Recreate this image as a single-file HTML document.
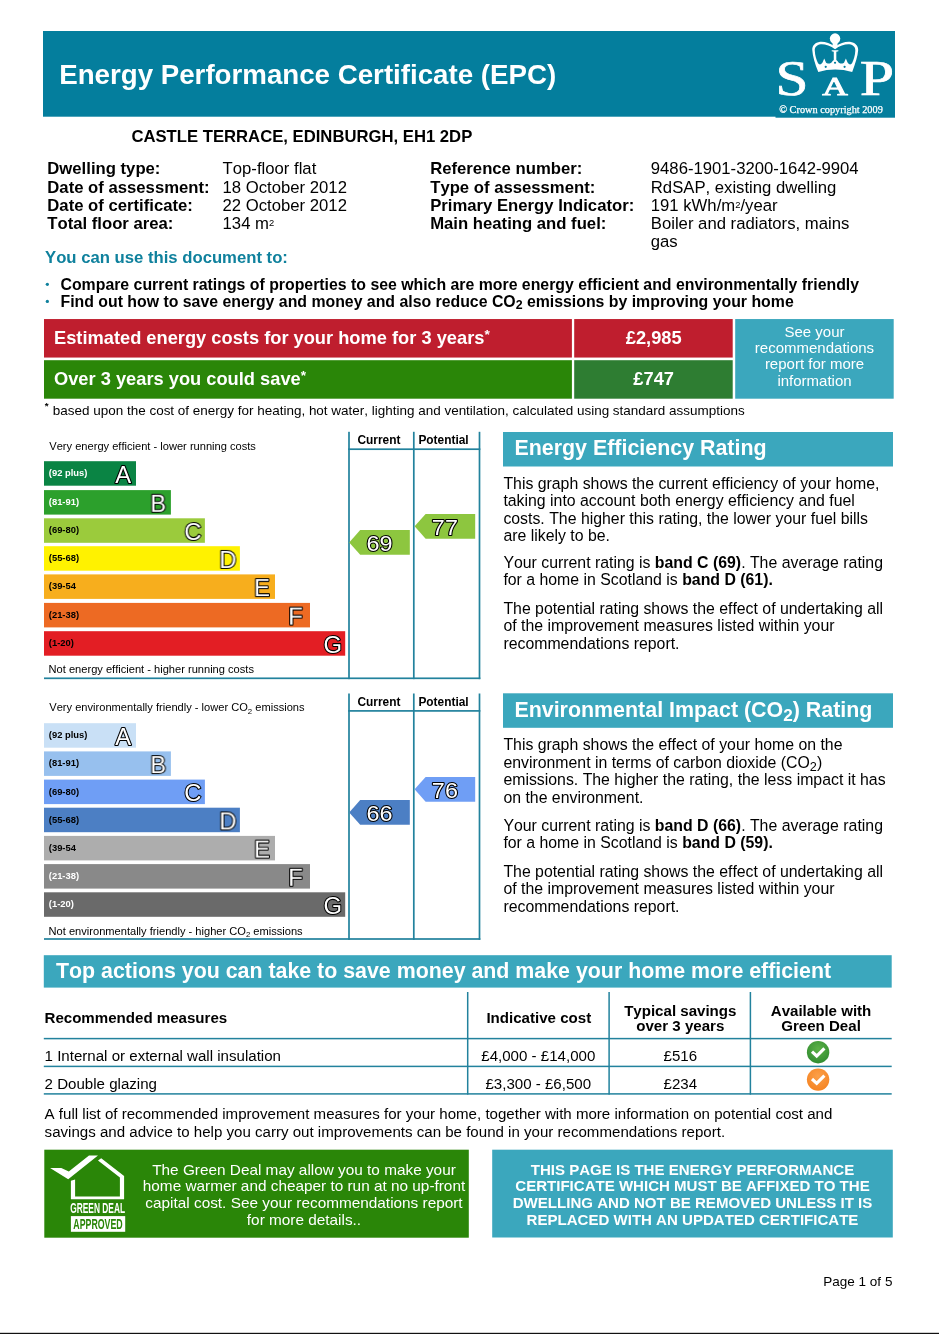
<!DOCTYPE html>
<html lang="en">
<head>
<meta charset="utf-8">
<title>Energy Performance Certificate (EPC)</title>
<style>
html,body{margin:0;padding:0;background:#fff;}
body{width:939px;height:1334px;position:relative;overflow:hidden;font-family:"Liberation Sans",sans-serif;color:#000;font-kerning:none;}
#page{position:absolute;left:0;top:0;width:939px;height:1334px;will-change:transform;}
.t{position:absolute;white-space:nowrap;margin:0;padding:0;}
.r{position:absolute;}
svg{position:absolute;left:0;top:0;overflow:visible;}
svg text{font-family:"Liberation Sans",sans-serif;font-kerning:none;}
.sup{font-size:0.56em;position:relative;top:-0.31em;}
.sub{font-size:0.78em;position:relative;top:0.2em;}
.sub2{font-size:0.8em;position:relative;top:0.21em;}
.sub3{font-size:0.8em;position:relative;top:0.24em;}
.ast{font-size:0.75em;position:relative;top:-0.35em;}
</style>
</head>
<body>
<div id="page">
<svg width="939" height="1334" viewBox="0 0 939 1334">
<rect x="43.00" y="31.00" width="852.00" height="85.70" fill="#047e9d"/>
<rect x="775.50" y="116.00" width="119.50" height="1.70" fill="#047e9d"/>
<circle cx="47.35" cy="284.35" r="1.65" fill="#0f819d"/>
<circle cx="47.35" cy="301.45" r="1.65" fill="#0f819d"/>
<rect x="44.00" y="319.05" width="527.90" height="38.50" fill="#bf1e2e"/>
<rect x="574.20" y="319.05" width="158.50" height="38.50" fill="#bf1e2e"/>
<rect x="44.00" y="360.20" width="527.90" height="38.50" fill="#2a8608"/>
<rect x="574.20" y="360.20" width="158.50" height="38.50" fill="#2e7d32"/>
<rect x="735.20" y="319.05" width="158.50" height="79.65" fill="#3ba7bd"/>
<rect x="503.00" y="432.00" width="390.00" height="34.50" fill="#3ba7bd"/>
<rect x="503.00" y="693.30" width="390.00" height="34.50" fill="#3ba7bd"/>
<rect x="43.80" y="955.20" width="847.90" height="32.40" fill="#3ba7bd"/>
<rect x="43.80" y="1037.85" width="847.90" height="1.50" fill="#22829d"/>
<rect x="43.80" y="1065.65" width="847.90" height="1.50" fill="#22829d"/>
<rect x="43.80" y="1093.15" width="847.90" height="1.50" fill="#22829d"/>
<rect x="466.95" y="992.00" width="1.50" height="102.60" fill="#22829d"/>
<rect x="608.35" y="992.00" width="1.50" height="102.60" fill="#22829d"/>
<rect x="749.65" y="992.00" width="1.50" height="102.60" fill="#22829d"/>
<rect x="44.30" y="1149.70" width="424.50" height="88.00" fill="#2a8608"/>
<rect x="492.20" y="1149.70" width="400.60" height="87.80" fill="#3ba7bd"/>
<rect x="0.00" y="1332.80" width="939.00" height="1.20" fill="#111"/>
</svg>
<div class="t" style="left:59.20px;top:61px;font-size:27.7px;line-height:27.7px;font-weight:bold;color:#fff;">Energy Performance Certificate (EPC)</div>
<svg width="939" height="130" viewBox="0 0 939 130">
<g fill="#fff" stroke="#fff" stroke-width="0.7" font-family="Liberation Serif, serif">
<text transform="translate(775.5,95.1) scale(1.185,1)" font-size="50" style="font-family:'Liberation Serif',serif">S</text>
<text transform="translate(859.7,95.1) scale(1.236,1)" font-size="50" style="font-family:'Liberation Serif',serif">P</text>
<text transform="translate(822.3,95.1) scale(1.36,1)" font-size="26" stroke-width="0.9" style="font-family:'Liberation Serif',serif">A</text>
<text x="779.2" y="113.0" font-size="10.3" stroke-width="0.25" style="font-family:'Liberation Serif',serif">© Crown copyright 2009</text>
</g>
<g transform="translate(800,28) scale(0.07457)">
<circle cx="470" cy="142" r="70" fill="#fff"/>
<path fill="#fff" d="M435 195 H505 L500 262 H440Z"/>
<path fill="#fff" d="M470 250 C400 200 330 180 270 185 C200 195 160 240 165 300 C170 380 200 480 245 590 Q470 525 700 590 C740 480 775 380 780 300 C785 240 740 195 670 185 C610 180 540 200 470 250Z"/>
<path fill="#047e9d" d="M470 284 C410 236 330 213 279 217 C222 225 196 258 198 302 C201 370 220 428 242 474 C257 496 288 491 302 464 L325 410 L348 461 C367 486 418 481 437 441 L470 420 L503 441 C522 481 573 486 592 461 L615 410 L638 464 C652 491 683 496 698 474 C720 428 739 370 742 302 C744 258 718 225 661 217 C610 213 530 236 470 284Z"/>
<path fill="#fff" d="M425 298 H515 V312 L487 320 V450 H453 V320 L425 312Z"/>
<circle cx="345" cy="520" r="15" fill="#047e9d"/>
<circle cx="470" cy="466" r="15" fill="#047e9d"/>
<circle cx="598" cy="520" r="15" fill="#047e9d"/>
</g>
</svg>

<div class="t" style="left:131.40px;top:129px;font-size:16.68px;line-height:16.68px;font-weight:bold;">CASTLE TERRACE, EDINBURGH, EH1 2DP</div>
<div class="t" style="left:47.30px;top:161px;font-size:16.7px;line-height:16.7px;font-weight:bold;">Dwelling type:</div>
<div class="t" style="left:222.60px;top:161px;font-size:16.7px;line-height:16.7px;">Top-floor flat</div>
<div class="t" style="left:430.20px;top:161px;font-size:16.7px;line-height:16.7px;font-weight:bold;">Reference number:</div>
<div class="t" style="left:650.80px;top:161px;font-size:16.7px;line-height:16.7px;">9486-1901-3200-1642-9904</div>
<div class="t" style="left:47.30px;top:180px;font-size:16.7px;line-height:16.7px;font-weight:bold;">Date of assessment:</div>
<div class="t" style="left:222.60px;top:180px;font-size:16.7px;line-height:16.7px;">18 October 2012</div>
<div class="t" style="left:430.20px;top:180px;font-size:16.7px;line-height:16.7px;font-weight:bold;">Type of assessment:</div>
<div class="t" style="left:650.80px;top:180px;font-size:16.7px;line-height:16.7px;">RdSAP, existing dwelling</div>
<div class="t" style="left:47.30px;top:198px;font-size:16.7px;line-height:16.7px;font-weight:bold;">Date of certificate:</div>
<div class="t" style="left:222.60px;top:198px;font-size:16.7px;line-height:16.7px;">22 October 2012</div>
<div class="t" style="left:430.20px;top:198px;font-size:16.7px;line-height:16.7px;font-weight:bold;">Primary Energy Indicator:</div>
<div class="t" style="left:650.80px;top:198px;font-size:16.7px;line-height:16.7px;">191 kWh/m<span class="sup">2</span>/year</div>
<div class="t" style="left:47.30px;top:216px;font-size:16.7px;line-height:16.7px;font-weight:bold;">Total floor area:</div>
<div class="t" style="left:222.60px;top:216px;font-size:16.7px;line-height:16.7px;">134 m<span class="sup">2</span></div>
<div class="t" style="left:430.20px;top:216px;font-size:16.7px;line-height:16.7px;font-weight:bold;">Main heating and fuel:</div>
<div class="t" style="left:650.80px;top:216px;font-size:16.7px;line-height:16.7px;">Boiler and radiators, mains</div>
<div class="t" style="left:650.80px;top:234px;font-size:16.7px;line-height:16.7px;">gas</div>
<div class="t" style="left:45.00px;top:250px;font-size:16.7px;line-height:16.7px;font-weight:bold;color:#0f819d;">You can use this document to:</div>
<div class="t" style="left:60.50px;top:277px;font-size:15.85px;line-height:15.85px;font-weight:bold;">Compare current ratings of properties to see which are more energy efficient and environmentally friendly</div>
<div class="t" style="left:60.50px;top:294px;font-size:15.85px;line-height:15.85px;font-weight:bold;">Find out how to save energy and money and also reduce CO<span class="sub">2</span> emissions by improving your home</div>
<div class="t" style="left:54.00px;top:329px;font-size:18.27px;line-height:18.27px;font-weight:bold;color:#fff;">Estimated energy costs for your home for 3 years<span class="ast">*</span></div>
<div class="t" style="left:54.00px;top:370px;font-size:18.27px;line-height:18.27px;font-weight:bold;color:#fff;">Over 3 years you could save<span class="ast">*</span></div>
<div class="t" style="left:574.60px;top:329px;font-size:18.27px;line-height:18.27px;font-weight:bold;color:#fff;width:158.20px;text-align:center;">£2,985</div>
<div class="t" style="left:574.60px;top:370px;font-size:18.27px;line-height:18.27px;font-weight:bold;color:#fff;width:158.20px;text-align:center;">£747</div>
<div class="t" style="left:735.20px;top:324px;font-size:15.0px;line-height:15.0px;color:#fff;width:158.60px;text-align:center;">See your</div>
<div class="t" style="left:735.20px;top:340px;font-size:15.0px;line-height:15.0px;color:#fff;width:158.60px;text-align:center;">recommendations</div>
<div class="t" style="left:735.20px;top:356px;font-size:15.0px;line-height:15.0px;color:#fff;width:158.60px;text-align:center;">report for more</div>
<div class="t" style="left:735.20px;top:373px;font-size:15.0px;line-height:15.0px;color:#fff;width:158.60px;text-align:center;">information</div>
<div class="t" style="left:44.80px;top:401px;font-size:9.8px;line-height:9.8px;font-weight:bold;">*</div>
<div class="t" style="left:52.80px;top:404px;font-size:13.48px;line-height:13.48px;">based upon the cost of energy for heating, hot water, lighting and ventilation, calculated using standard assumptions</div>
<svg width="939" height="960" viewBox="0 0 939 960" style="font-family:'Liberation Sans',sans-serif">
<g fill="#22829d">
<rect x="348.15" y="431.80" width="1.7" height="247.35"/>
<rect x="412.95" y="431.80" width="1.7" height="247.35"/>
<rect x="478.65" y="431.80" width="1.7" height="247.35"/>
<rect x="348.15" y="448.35" width="132.2" height="1.7"/>
<rect x="44" y="677.45" width="436.35" height="1.7"/>
</g>
<text x="378.9" y="444.10" font-size="11.9" font-weight="bold" text-anchor="middle">Current</text>
<text x="443.5" y="444.10" font-size="11.9" font-weight="bold" text-anchor="middle">Potential</text>
<text x="49.3" y="449.60" font-size="11.1">Very energy efficient - lower running costs</text>
<text x="48.6" y="672.50" font-size="11.1">Not energy efficient - higher running costs</text>
<rect x="44" y="461.20" width="92.00" height="24.5" fill="#0a8444"/>
<text x="48.8" y="476.10" font-size="9.4" font-weight="bold" fill="#fff">(92 plus)</text>
<text transform="translate(131.25,482.90) scale(0.98,1)" font-size="24.3" text-anchor="end" fill="#fff" stroke="#000" stroke-width="2.1" stroke-linejoin="round" paint-order="stroke">A</text>
<rect x="44" y="490.10" width="126.90" height="24.5" fill="#2ca02c"/>
<text x="48.8" y="505.00" font-size="9.4" font-weight="bold" fill="#fff">(81-91)</text>
<text transform="translate(166.20,511.80) scale(0.98,1)" font-size="24.3" text-anchor="end" fill="#fff" stroke="#000" stroke-width="2.1" stroke-linejoin="round" paint-order="stroke">B</text>
<rect x="44" y="518.30" width="160.90" height="24.5" fill="#9bcb3c"/>
<text x="48.8" y="533.20" font-size="9.4" font-weight="bold" fill="#000">(69-80)</text>
<text transform="translate(201.42,540.00) scale(0.98,1)" font-size="24.3" text-anchor="end" fill="#fff" stroke="#000" stroke-width="2.1" stroke-linejoin="round" paint-order="stroke">C</text>
<rect x="44" y="546.20" width="195.90" height="24.5" fill="#fff200"/>
<text x="48.8" y="561.10" font-size="9.4" font-weight="bold" fill="#000">(55-68)</text>
<text transform="translate(236.42,567.90) scale(0.98,1)" font-size="24.3" text-anchor="end" fill="#fff" stroke="#000" stroke-width="2.1" stroke-linejoin="round" paint-order="stroke">D</text>
<rect x="44" y="574.40" width="231.00" height="24.5" fill="#f7ae1d"/>
<text x="48.8" y="589.30" font-size="9.4" font-weight="bold" fill="#000">(39-54</text>
<text transform="translate(269.97,596.10) scale(0.98,1)" font-size="24.3" text-anchor="end" fill="#fff" stroke="#000" stroke-width="2.1" stroke-linejoin="round" paint-order="stroke">E</text>
<rect x="44" y="602.90" width="266.00" height="24.5" fill="#ed6a23"/>
<text x="48.8" y="617.80" font-size="9.4" font-weight="bold" fill="#000">(21-38)</text>
<text transform="translate(302.70,624.60) scale(0.98,1)" font-size="24.3" text-anchor="end" fill="#fff" stroke="#000" stroke-width="2.1" stroke-linejoin="round" paint-order="stroke">F</text>
<rect x="44" y="631.20" width="301.20" height="24.5" fill="#e31e24"/>
<text x="48.8" y="646.10" font-size="9.4" font-weight="bold" fill="#000">(1-20)</text>
<text transform="translate(342.08,652.90) scale(0.98,1)" font-size="24.3" text-anchor="end" fill="#fff" stroke="#000" stroke-width="2.1" stroke-linejoin="round" paint-order="stroke">G</text>
<path d="M349.20 542.40 L360.20 530.00 H409.80 V554.80 H360.20Z" fill="#8dc63f"/>
<text transform="translate(379.50,551.40) scale(1.05,1)" font-size="22.3" text-anchor="middle" fill="#fff" stroke="#000" stroke-width="2.1" stroke-linejoin="round" paint-order="stroke">69</text>
<path d="M414.60 526.30 L425.60 513.90 H475.20 V538.70 H425.60Z" fill="#8dc63f"/>
<text transform="translate(444.90,535.30) scale(1.05,1)" font-size="22.3" text-anchor="middle" fill="#fff" stroke="#000" stroke-width="2.1" stroke-linejoin="round" paint-order="stroke">77</text>
<g fill="#22829d">
<rect x="348.15" y="693.50" width="1.7" height="246.35"/>
<rect x="412.95" y="693.50" width="1.7" height="246.35"/>
<rect x="478.65" y="693.50" width="1.7" height="246.35"/>
<rect x="348.15" y="710.05" width="132.2" height="1.7"/>
<rect x="44" y="938.15" width="436.35" height="1.7"/>
</g>
<text x="378.9" y="705.80" font-size="11.9" font-weight="bold" text-anchor="middle">Current</text>
<text x="443.5" y="705.80" font-size="11.9" font-weight="bold" text-anchor="middle">Potential</text>
<text x="49.3" y="711.30" font-size="11.1">Very environmentally friendly - lower CO<tspan font-size="7.8" dy="2.4">2</tspan><tspan dy="-2.4"> </tspan>emissions</text>
<text x="48.6" y="934.80" font-size="11.1">Not environmentally friendly - higher CO<tspan font-size="7.8" dy="2.4">2</tspan><tspan dy="-2.4"> </tspan>emissions</text>
<rect x="44" y="723.20" width="92.00" height="24.5" fill="#c9e0f6"/>
<text x="48.8" y="738.10" font-size="9.4" font-weight="bold" fill="#000">(92 plus)</text>
<text transform="translate(131.25,744.90) scale(0.98,1)" font-size="24.3" text-anchor="end" fill="#fff" stroke="#000" stroke-width="2.1" stroke-linejoin="round" paint-order="stroke">A</text>
<rect x="44" y="751.40" width="126.90" height="24.5" fill="#97c0ee"/>
<text x="48.8" y="766.30" font-size="9.4" font-weight="bold" fill="#000">(81-91)</text>
<text transform="translate(166.20,773.10) scale(0.98,1)" font-size="24.3" text-anchor="end" fill="#fff" stroke="#000" stroke-width="2.1" stroke-linejoin="round" paint-order="stroke">B</text>
<rect x="44" y="779.60" width="160.90" height="24.5" fill="#6f9ef5"/>
<text x="48.8" y="794.50" font-size="9.4" font-weight="bold" fill="#000">(69-80)</text>
<text transform="translate(201.42,801.30) scale(0.98,1)" font-size="24.3" text-anchor="end" fill="#fff" stroke="#000" stroke-width="2.1" stroke-linejoin="round" paint-order="stroke">C</text>
<rect x="44" y="807.70" width="195.90" height="24.5" fill="#4c7fc4"/>
<text x="48.8" y="822.60" font-size="9.4" font-weight="bold" fill="#000">(55-68)</text>
<text transform="translate(236.42,829.40) scale(0.98,1)" font-size="24.3" text-anchor="end" fill="#fff" stroke="#000" stroke-width="2.1" stroke-linejoin="round" paint-order="stroke">D</text>
<rect x="44" y="835.90" width="231.00" height="24.5" fill="#adadad"/>
<text x="48.8" y="850.80" font-size="9.4" font-weight="bold" fill="#000">(39-54</text>
<text transform="translate(269.97,857.60) scale(0.98,1)" font-size="24.3" text-anchor="end" fill="#fff" stroke="#000" stroke-width="2.1" stroke-linejoin="round" paint-order="stroke">E</text>
<rect x="44" y="864.10" width="266.00" height="24.5" fill="#898989"/>
<text x="48.8" y="879.00" font-size="9.4" font-weight="bold" fill="#fff">(21-38)</text>
<text transform="translate(302.70,885.80) scale(0.98,1)" font-size="24.3" text-anchor="end" fill="#fff" stroke="#000" stroke-width="2.1" stroke-linejoin="round" paint-order="stroke">F</text>
<rect x="44" y="892.30" width="301.20" height="24.5" fill="#6a6a6a"/>
<text x="48.8" y="907.20" font-size="9.4" font-weight="bold" fill="#fff">(1-20)</text>
<text transform="translate(342.08,914.00) scale(0.98,1)" font-size="24.3" text-anchor="end" fill="#fff" stroke="#000" stroke-width="2.1" stroke-linejoin="round" paint-order="stroke">G</text>
<path d="M349.20 812.40 L360.20 800.00 H409.80 V824.80 H360.20Z" fill="#4c7fc4"/>
<text transform="translate(379.50,821.40) scale(1.05,1)" font-size="22.3" text-anchor="middle" fill="#fff" stroke="#000" stroke-width="2.1" stroke-linejoin="round" paint-order="stroke">66</text>
<path d="M414.60 789.30 L425.60 776.90 H475.20 V801.70 H425.60Z" fill="#6f9ef5"/>
<text transform="translate(444.90,798.30) scale(1.05,1)" font-size="22.3" text-anchor="middle" fill="#fff" stroke="#000" stroke-width="2.1" stroke-linejoin="round" paint-order="stroke">76</text>
</svg>
<div class="t" style="left:514.40px;top:438px;font-size:21.42px;line-height:21.42px;font-weight:bold;color:#fff;">Energy Efficiency Rating</div>
<div class="t" style="left:503.40px;top:476px;font-size:15.85px;line-height:15.85px;">This graph shows the current efficiency of your home,</div>
<div class="t" style="left:503.40px;top:493px;font-size:15.85px;line-height:15.85px;">taking into account both energy efficiency and fuel</div>
<div class="t" style="left:503.40px;top:511px;font-size:15.85px;line-height:15.85px;">costs. The higher this rating, the lower your fuel bills</div>
<div class="t" style="left:503.40px;top:528px;font-size:15.85px;line-height:15.85px;">are likely to be.</div>
<div class="t" style="left:503.40px;top:555px;font-size:15.85px;line-height:15.85px;">Your current rating is <b>band C (69)</b>. The average rating</div>
<div class="t" style="left:503.40px;top:572px;font-size:15.85px;line-height:15.85px;">for a home in Scotland is <b>band D (61).</b></div>
<div class="t" style="left:503.40px;top:601px;font-size:15.85px;line-height:15.85px;">The potential rating shows the effect of undertaking all</div>
<div class="t" style="left:503.40px;top:618px;font-size:15.85px;line-height:15.85px;">of the improvement measures listed within your</div>
<div class="t" style="left:503.40px;top:636px;font-size:15.85px;line-height:15.85px;">recommendations report.</div>
<div class="t" style="left:514.40px;top:700px;font-size:21.42px;line-height:21.42px;font-weight:bold;color:#fff;">Environmental Impact (CO<span class="sub2">2</span>) Rating</div>
<div class="t" style="left:503.40px;top:737px;font-size:15.85px;line-height:15.85px;">This graph shows the effect of your home on the</div>
<div class="t" style="left:503.40px;top:755px;font-size:15.85px;line-height:15.85px;">environment in terms of carbon dioxide (CO<span class="sub3">2</span>)</div>
<div class="t" style="left:503.40px;top:772px;font-size:15.85px;line-height:15.85px;">emissions. The higher the rating, the less impact it has</div>
<div class="t" style="left:503.40px;top:790px;font-size:15.85px;line-height:15.85px;">on the environment.</div>
<div class="t" style="left:503.40px;top:818px;font-size:15.85px;line-height:15.85px;">Your current rating is <b>band D (66)</b>. The average rating</div>
<div class="t" style="left:503.40px;top:835px;font-size:15.85px;line-height:15.85px;">for a home in Scotland is <b>band D (59).</b></div>
<div class="t" style="left:503.40px;top:864px;font-size:15.85px;line-height:15.85px;">The potential rating shows the effect of undertaking all</div>
<div class="t" style="left:503.40px;top:881px;font-size:15.85px;line-height:15.85px;">of the improvement measures listed within your</div>
<div class="t" style="left:503.40px;top:899px;font-size:15.85px;line-height:15.85px;">recommendations report.</div>
<div class="t" style="left:56.00px;top:961px;font-size:21.37px;line-height:21.37px;font-weight:bold;color:#fff;">Top actions you can take to save money and make your home more efficient</div>
<div class="t" style="left:44.50px;top:1010px;font-size:15.08px;line-height:15.08px;font-weight:bold;">Recommended measures</div>
<div class="t" style="left:468.10px;top:1010px;font-size:15.08px;line-height:15.08px;font-weight:bold;width:141.40px;text-align:center;">Indicative cost</div>
<div class="t" style="left:609.90px;top:1003px;font-size:15.08px;line-height:15.08px;font-weight:bold;width:140.80px;text-align:center;">Typical savings</div>
<div class="t" style="left:609.90px;top:1018px;font-size:15.08px;line-height:15.08px;font-weight:bold;width:140.80px;text-align:center;">over 3 years</div>
<div class="t" style="left:750.40px;top:1003px;font-size:15.08px;line-height:15.08px;font-weight:bold;width:141.30px;text-align:center;">Available with</div>
<div class="t" style="left:750.40px;top:1018px;font-size:15.08px;line-height:15.08px;font-weight:bold;width:141.30px;text-align:center;">Green Deal</div>
<div class="t" style="left:44.60px;top:1048px;font-size:15.08px;line-height:15.08px;">1 Internal or external wall insulation</div>
<div class="t" style="left:44.60px;top:1076px;font-size:15.08px;line-height:15.08px;">2 Double glazing</div>
<div class="t" style="left:467.60px;top:1048px;font-size:15.08px;line-height:15.08px;width:141.40px;text-align:center;">£4,000 - £14,000</div>
<div class="t" style="left:467.60px;top:1076px;font-size:15.08px;line-height:15.08px;width:141.40px;text-align:center;">£3,300 - £6,500</div>
<div class="t" style="left:609.90px;top:1048px;font-size:15.08px;line-height:15.08px;width:140.80px;text-align:center;">£516</div>
<div class="t" style="left:609.90px;top:1076px;font-size:15.08px;line-height:15.08px;width:140.80px;text-align:center;">£234</div>
<svg width="939" height="1110" viewBox="0 0 939 1110">
<defs>
<radialGradient id="gg" cx="0.5" cy="0.35" r="0.7"><stop offset="0" stop-color="#5cb247"/><stop offset="1" stop-color="#2f8a2f"/></radialGradient>
<radialGradient id="og" cx="0.5" cy="0.35" r="0.7"><stop offset="0" stop-color="#fba04a"/><stop offset="1" stop-color="#f58220"/></radialGradient>
</defs>
<circle cx="818.1" cy="1052.2" r="11.2" fill="url(#gg)"/>
<path d="M812.0 1051.6 L816.7 1056.0 L824.4 1048.3" fill="none" stroke="#fff" stroke-width="3.1"/>
<circle cx="818.1" cy="1079.6" r="11.2" fill="url(#og)"/>
<path d="M812.0 1079.0 L816.7 1083.4 L824.4 1075.7" fill="none" stroke="#fff" stroke-width="3.1"/>
</svg>

<div class="t" style="left:44.60px;top:1106px;font-size:15.08px;line-height:15.08px;">A full list of recommended improvement measures for your home, together with more information on potential cost and</div>
<div class="t" style="left:44.60px;top:1124px;font-size:15.08px;line-height:15.08px;">savings and advice to help you carry out improvements can be found in your recommendations report.</div>
<svg width="939" height="1334" viewBox="0 0 939 1334" style="font-family:'Liberation Sans',sans-serif">
<g fill="#fff">
<path d="M50.1 1167.9 L61.3 1167.9 L68.8 1171.6 L89 1155.6 L98 1155.6 L68.2 1179.3Z"/>
<path d="M101.2 1158.3 L124.1 1175.9 V1199.3 H70.9 V1180.7 L75.1 1179.4 V1196.6 H119.9 V1177.6 L98 1160.4Z"/>
<text transform="translate(70.2,1213.2) scale(0.59,1)" font-size="14.2" font-weight="bold">GREEN DEAL</text>
<rect x="70.9" y="1216.1" width="54.3" height="15.7"/>
</g>
<text transform="translate(73.3,1229.1) scale(0.62,1)" font-size="14.2" font-weight="bold" fill="#2a8608">APPROVED</text>
</svg>

<div class="t" style="left:139.00px;top:1162px;font-size:15.35px;line-height:15.35px;color:#fff;width:330.00px;text-align:center;">The Green Deal may allow you to make your</div>
<div class="t" style="left:139.00px;top:1178px;font-size:15.35px;line-height:15.35px;color:#fff;width:330.00px;text-align:center;">home warmer and cheaper to run at no up-front</div>
<div class="t" style="left:139.00px;top:1195px;font-size:15.35px;line-height:15.35px;color:#fff;width:330.00px;text-align:center;">capital cost. See your recommendations report</div>
<div class="t" style="left:139.00px;top:1212px;font-size:15.35px;line-height:15.35px;color:#fff;width:330.00px;text-align:center;">for more details..</div>
<div class="t" style="left:492.20px;top:1162px;font-size:15.05px;line-height:15.05px;font-weight:bold;color:#fff;width:400.60px;text-align:center;">THIS PAGE IS THE ENERGY PERFORMANCE</div>
<div class="t" style="left:492.20px;top:1178px;font-size:15.05px;line-height:15.05px;font-weight:bold;color:#fff;width:400.60px;text-align:center;">CERTIFICATE WHICH MUST BE AFFIXED TO THE</div>
<div class="t" style="left:492.20px;top:1195px;font-size:15.05px;line-height:15.05px;font-weight:bold;color:#fff;width:400.60px;text-align:center;">DWELLING AND NOT BE REMOVED UNLESS IT IS</div>
<div class="t" style="left:492.20px;top:1212px;font-size:15.05px;line-height:15.05px;font-weight:bold;color:#fff;width:400.60px;text-align:center;">REPLACED WITH AN UPDATED CERTIFICATE</div>
<div class="t" style="left:700.00px;top:1275px;font-size:13.5px;line-height:13.5px;width:192.40px;text-align:right;">Page 1 of 5</div>
</div>
</body>
</html>
